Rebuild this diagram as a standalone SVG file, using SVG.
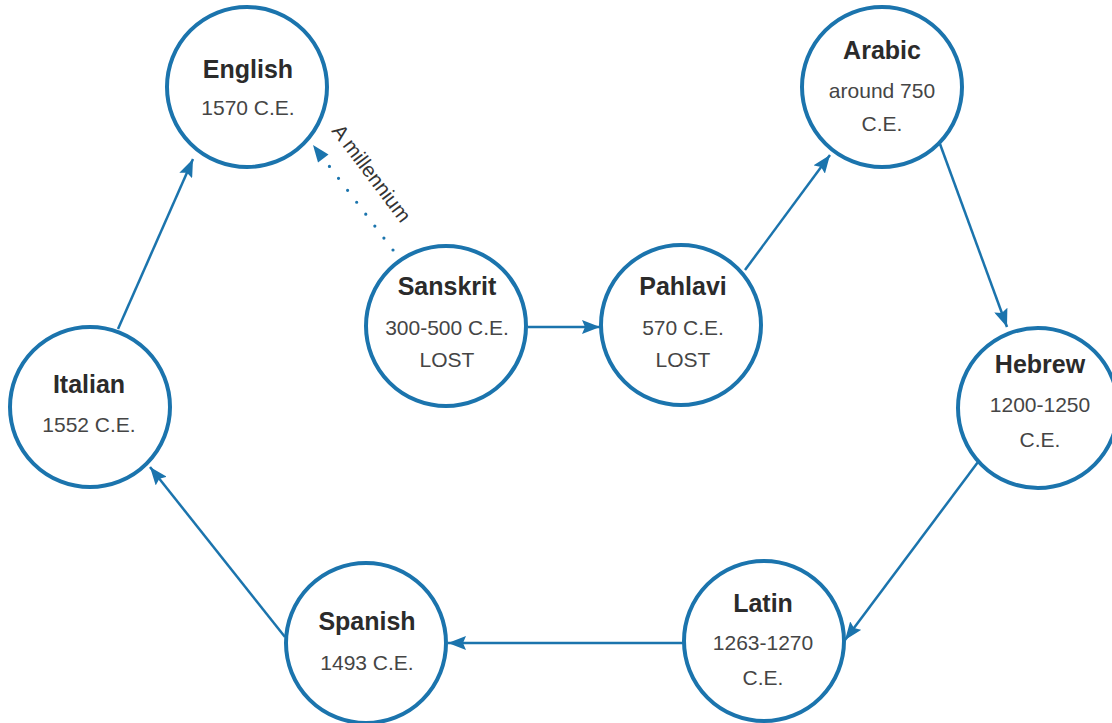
<svg xmlns="http://www.w3.org/2000/svg" width="1112" height="723" viewBox="0 0 1112 723">
<style>
.node circle{fill:#fff;stroke:#1b74ad;stroke-width:4}
.t{font-family:"Liberation Sans",Arial,sans-serif;text-anchor:middle}
.b{font-weight:bold;font-size:25px;fill:#2b2b2b}
.r{font-size:21px;fill:#454545}
.edge{stroke:#1b74ad;stroke-width:2.5;fill:none}
.dot{stroke:#1b74ad;stroke-width:3.2;fill:none;stroke-linecap:round;stroke-dasharray:0 15}
.lbl{font-family:"Liberation Sans",Arial,sans-serif;font-size:20.5px;fill:#333}
</style>
<defs>
<marker id="ah" viewBox="0 0 18 14" refX="18" refY="7" markerWidth="18" markerHeight="14" markerUnits="userSpaceOnUse" orient="auto">
<path d="M0,0 L18,7 L0,14 L3,7 z" fill="#1b74ad"/>
</marker>
</defs>
<rect width="1112" height="723" fill="#fff"/>
<g id="connectors">
<line class="edge" x1="118" y1="329" x2="193" y2="159" marker-end="url(#ah)"/>
<line class="dot" x1="393" y1="250" x2="320" y2="154"/>
<path d="M313,145 L328.5,154.5 L318,162.5 z" fill="#1b74ad"/>
<line class="edge" x1="528" y1="327" x2="600" y2="327" marker-end="url(#ah)"/>
<line class="edge" x1="745" y1="270" x2="830" y2="155" marker-end="url(#ah)"/>
<line class="edge" x1="940" y1="144" x2="1007" y2="327" marker-end="url(#ah)"/>
<line class="edge" x1="978" y1="462" x2="845" y2="640" marker-end="url(#ah)"/>
<line class="edge" x1="683" y1="643" x2="448" y2="643" marker-end="url(#ah)"/>
<line class="edge" x1="285" y1="637" x2="150" y2="467" marker-end="url(#ah)"/>
<text class="lbl" transform="translate(331,131) rotate(53)">A millennium</text>
</g>
<g id="english" class="node"><circle cx="247" cy="87" r="80"/><text class="t b" x="248" y="78">English</text><text class="t r" x="248" y="115">1570 C.E.</text></g>
<g id="sanskrit" class="node"><circle cx="446" cy="326" r="80"/><text class="t b" x="447" y="295">Sanskrit</text><text class="t r" x="447" y="335">300-500 C.E.</text><text class="t r" x="447" y="367">LOST</text></g>
<g id="pahlavi" class="node"><circle cx="681" cy="325" r="80"/><text class="t b" x="683" y="295">Pahlavi</text><text class="t r" x="683" y="335">570 C.E.</text><text class="t r" x="683" y="367">LOST</text></g>
<g id="arabic" class="node"><circle cx="882" cy="87" r="80"/><text class="t b" x="882" y="59">Arabic</text><text class="t r" x="882" y="98">around 750</text><text class="t r" x="882" y="131">C.E.</text></g>
<g id="hebrew" class="node"><circle cx="1038" cy="408" r="80"/><text class="t b" x="1040" y="373">Hebrew</text><text class="t r" x="1040" y="412">1200-1250</text><text class="t r" x="1040" y="447">C.E.</text></g>
<g id="italian" class="node"><circle cx="90" cy="407" r="80"/><text class="t b" x="89" y="393">Italian</text><text class="t r" x="89" y="432">1552 C.E.</text></g>
<g id="spanish" class="node"><circle cx="366" cy="643" r="80"/><text class="t b" x="367" y="630">Spanish</text><text class="t r" x="367" y="670">1493 C.E.</text></g>
<g id="latin" class="node"><circle cx="764" cy="641" r="80"/><text class="t b" x="763" y="612">Latin</text><text class="t r" x="763" y="650">1263-1270</text><text class="t r" x="763" y="685">C.E.</text></g>
</svg>
